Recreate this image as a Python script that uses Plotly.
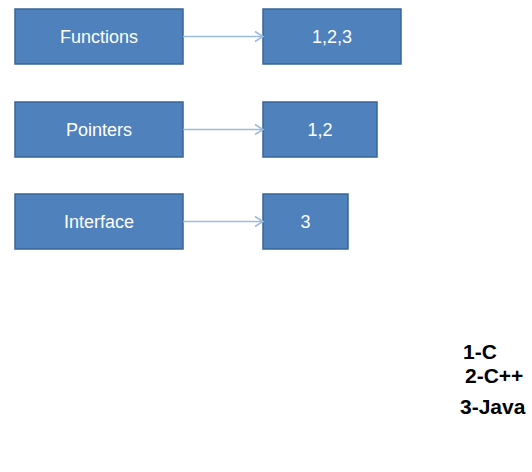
import plotly.graph_objects as go

# ---- data ----
features = ["Functions", "Pointers", "Interface"]
supported = ["1,2,3", "1,2", "3"]
legend_items = ["1-C", "2-C++", "3-Java"]

# ---- layout constants (pixel space) ----
W, H = 532, 472
row_y = [36.5, 129.5, 221.5]
box_h = 55
left_x0, left_w = 15, 168
right_x0 = 263
right_w = [138, 114, 85]
fill = "#4f81bd"
edge = "#3a6496"
arrow_col = "#9bbbe0"
font_fam = "Liberation Sans, Arial, sans-serif"

fig = go.Figure()

# left boxes
fig.add_trace(go.Bar(
    y=row_y, x=[left_w] * len(features), base=[left_x0] * len(features),
    orientation="h", width=box_h,
    marker=dict(color=fill, line=dict(color=edge, width=1.5)),
    text=features, textposition="inside", insidetextanchor="middle",
    textfont=dict(family=font_fam, size=18, color="white"),
    hoverinfo="skip", showlegend=False,
))
# right boxes
fig.add_trace(go.Bar(
    y=row_y, x=right_w, base=[right_x0] * len(supported),
    orientation="h", width=box_h,
    marker=dict(color=fill, line=dict(color=edge, width=1.5)),
    text=supported, textposition="inside", insidetextanchor="middle",
    textfont=dict(family=font_fam, size=18, color="white"),
    hoverinfo="skip", showlegend=False,
))

# arrows
x_start = left_x0 + left_w
for y in row_y:
    fig.add_trace(go.Scatter(
        x=[x_start, right_x0, None, right_x0 - 8, right_x0, right_x0 - 8],
        y=[y, y, None, y - 5, y, y + 5],
        mode="lines", line=dict(color=arrow_col, width=1.5),
        hoverinfo="skip", showlegend=False,
    ))

# key text
key_x = [463, 465, 460]
key_y = [354, 378, 409]
fig.add_trace(go.Scatter(
    x=key_x, y=key_y, mode="text", text=legend_items,
    textposition="middle right",
    textfont=dict(family=font_fam, size=21, color="black"),
    texttemplate="<b>%{text}</b>",
    hoverinfo="skip", showlegend=False,
))

fig.update_layout(
    width=W, height=H,
    margin=dict(l=0, r=0, t=0, b=0),
    paper_bgcolor="white", plot_bgcolor="white",
    barmode="overlay",
    uniformtext=dict(minsize=10, mode="show"),
    xaxis=dict(range=[0, W], visible=False, fixedrange=True),
    yaxis=dict(range=[H, 0], visible=False, fixedrange=True),
)

fig.write_html("out.html", config={"displayModeBar": False},
               post_script="document.body.style.margin='0';")
